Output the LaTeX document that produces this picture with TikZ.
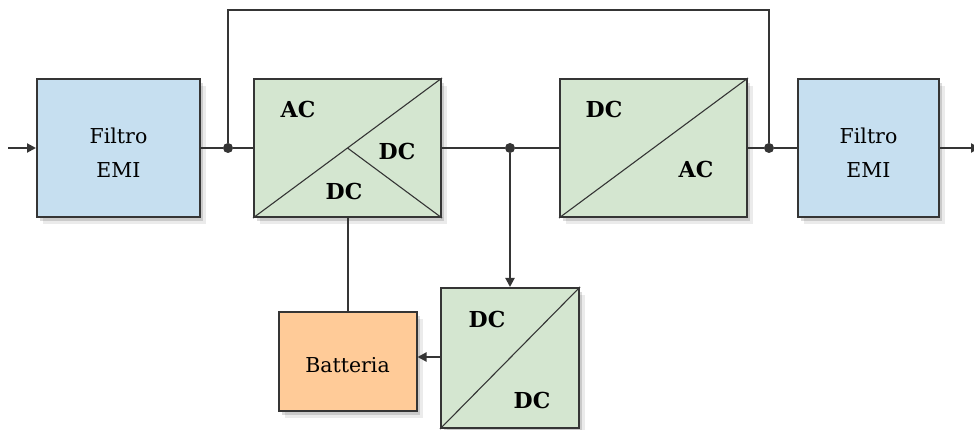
\documentclass[tikz,border=0pt]{standalone}
\usepackage{fontspec}
\setmainfont{DejaVu Serif}
\usetikzlibrary{shadows,arrows.meta}
\definecolor{linec}{HTML}{353535}
\definecolor{bluef}{HTML}{C6DFF0}
\definecolor{greenf}{HTML}{D4E6D0}
\definecolor{orangef}{HTML}{FFCB98}
\begin{document}
\begin{tikzpicture}[x=1pt,y=-1pt,
  box/.style={draw=linec,line width=2pt,inner sep=0pt,
    drop shadow={shadow xshift=3pt,shadow yshift=-4pt,opacity=.14,fill=black},
    drop shadow={shadow xshift=6pt,shadow yshift=-7pt,opacity=.08,fill=black}},
  filt/.style={box,fill=bluef},
  conv/.style={box,fill=greenf},
  txt/.style={align=center,inner sep=0pt,font=\rmfamily\fontsize{20.5}{34}\selectfont},
  lbl/.style={font=\rmfamily\fontsize{22}{26}\selectfont\bfseries,inner sep=0pt},
  wire/.style={draw=linec,line width=2pt},
  diag/.style={draw=linec,line width=1.1pt},
  arr/.style={wire,-{Triangle[length=9pt,width=9pt]}},
  dot/.style={circle,fill=linec,inner sep=0pt,minimum size=10pt}]
\useasboundingbox (0,0) rectangle (974,430);
% boxes
\node[filt,minimum width=163pt,minimum height=138pt] (f1) at (118.5,148) {};
\node[conv,minimum width=187pt,minimum height=138pt] (acdc) at (347.5,148) {};
\node[conv,minimum width=187pt,minimum height=138pt] (dcac) at (653.5,148) {};
\node[filt,minimum width=141pt,minimum height=138pt] (f2) at (868.5,148) {};
\node[conv,minimum width=138pt,minimum height=140pt] (dcdc) at (510,358) {};
\node[box,fill=orangef,minimum width=138pt,minimum height=99pt] (batt) at (347.5,361.5) {};
% texts
\node[txt] (t1) at (118.5,153) {Filtro\\EMI};
\node[txt] (t2) at (868.5,153) {Filtro\\EMI};
\node[txt] (t3) at (347.5,365) {Batteria};
% internal lines
\draw[diag] (acdc.south west) -- (acdc.north east);
\draw[diag] (acdc.center) -- (acdc.south east);
\draw[diag] (dcac.south west) -- (dcac.north east);
\draw[diag] (dcdc.south west) -- (dcdc.north east);
% labels
\node[lbl] (l1) at (298,109) {AC};
\node[lbl] (l2) at (397,151) {DC};
\node[lbl] (l3) at (344,191) {DC};
\node[lbl] (l4) at (604,109) {DC};
\node[lbl] (l5) at (696,169) {AC};
\node[lbl] (l6) at (487,319) {DC};
\node[lbl] (l7) at (532,400) {DC};
% junctions
\node[dot] (j1) at (228,148) {};
\node[dot] (j2) at (510,148) {};
\node[dot] (j3) at (769,148) {};
\coordinate (in) at (8,148);
\coordinate (out) at (980,148);
% wires
\draw[arr] (in) -- (f1.west);
\draw[wire] (f1.east) -- (j1) -- (acdc.west);
\draw[wire] (acdc.east) -- (j2) -- (dcac.west);
\draw[wire] (dcac.east) -- (j3) -- (f2.west);
\draw[arr] (f2.east) -- (out);
\draw[wire] (j1) -- ++(0,-138) -| (j3);
\draw[arr] (j2) -- (dcdc.north);
\draw[wire] (acdc.south) -- (acdc.south |- batt.north);
\draw[arr] (dcdc.west |- 0,357) -- (batt.east |- 0,357);
\end{tikzpicture}
\end{document}
